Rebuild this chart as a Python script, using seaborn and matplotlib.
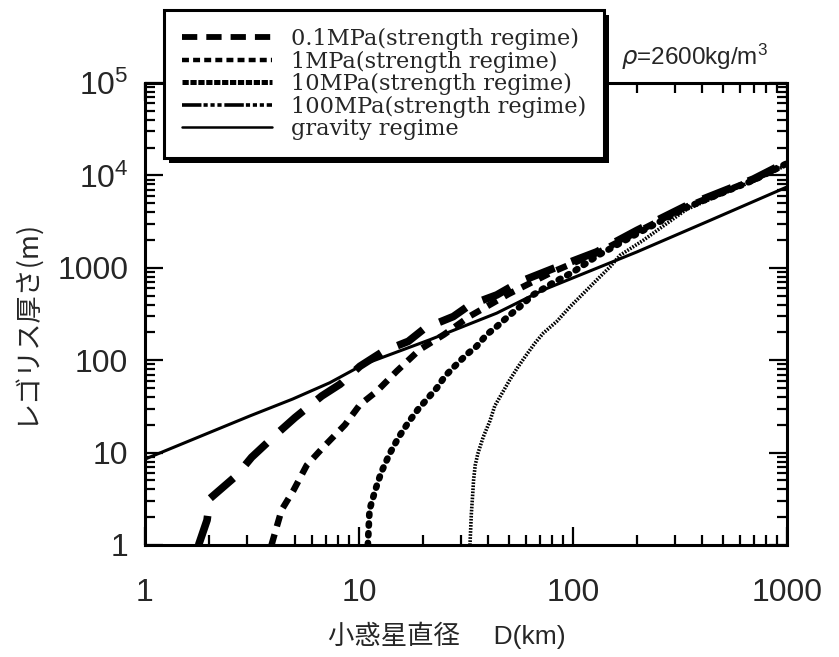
import matplotlib
matplotlib.use("Agg")
import matplotlib.pyplot as plt
import seaborn as sns
import pandas as pd
from matplotlib.lines import Line2D
from matplotlib.patches import Rectangle
from matplotlib.ticker import FixedLocator, FixedFormatter, LogLocator, NullFormatter

# ---------------- data ----------------
d_01 = [1.78, 1.95, 2.01, 2.68, 3.15, 4.12, 5.02, 6.7, 8.16, 10.1, 13, 17, 20.3, 27.6, 33, 44, 56.5, 81, 129, 199, 340, 696, 1000]
h_01 = [1.0, 1.86, 3.18, 5.66, 8.9, 15.9, 23.9, 41, 55, 86, 125, 160, 222, 297, 397, 508, 707, 984, 1486, 2543, 4720, 9120, 14000]

d_1 = [3.9, 4.35, 4.94, 5.7, 6.8, 8.6, 10.1, 12.1, 15, 19.2, 25, 33, 50, 80, 130, 200, 340, 700, 1000]
h_1 = [1.0, 2.4, 3.9, 7.3, 11.4, 20, 33, 46, 76, 130, 190, 300, 520, 900, 1450, 2450, 4600, 9000, 13500]

d_10 = [11.0, 11.2, 11.9, 12.7, 13.9, 15.3, 17, 18.9, 21.1, 23.1, 25.2, 28, 31.8, 35.4, 39.5, 44, 49.7, 56.5, 65, 80, 100, 130, 200, 340, 700, 1000]
h_10 = [1.0, 2.4, 3.9, 6.1, 9.7, 14.6, 21.2, 29.5, 39.4, 50, 67, 86, 115, 141, 189, 231, 297, 380, 508, 680, 900, 1350, 2350, 4500, 8900, 13500]

d_100 = [33, 33.5, 34, 34.3, 34.9, 35.9, 38, 40.9, 43.1, 46.3, 50.8, 55.6, 60.7, 66.4, 72.6, 84, 97, 112, 129, 149, 166, 213, 340, 700, 1000]
h_100 = [1.0, 2.19, 3.6, 5.0, 7.25, 9.7, 14.6, 22, 32, 42.7, 62, 86, 115, 153, 196, 263, 380, 530, 737, 1025, 1368, 1986, 4300, 8800, 13000]

d_grav = [1, 1.94, 3.1, 4.9, 7.3, 10.5, 21.5, 44, 72.6, 199, 437, 1000]
h_grav = [8.5, 16, 25, 38, 57, 90, 167, 323, 576, 1486, 3260, 7500]

labels = ["0.1MPa(strength regime)", "1MPa(strength regime)", "10MPa(strength regime)",
          "100MPa(strength regime)", "gravity regime"]
xticks = [1, 10, 100, 1000]
xticklabels = ["1", "10", "100", "1000"]
yticks = [1, 10, 100, 1000, 1e4, 1e5]
yticklabels = ["1", "10", "100", "1000", r"$10^4$", r"$10^5$"]

# ---------------- styling ----------------
sns.set_theme(style="white")
plt.rcParams["font.family"] = ["Liberation Sans", "Noto Sans CJK JP", "DejaVu Sans"]
plt.rcParams["mathtext.default"] = "regular"
plt.rcParams["lines.scale_dashes"] = False

fig = plt.figure(figsize=(8.39, 6.57), dpi=100)
ax = fig.add_axes([145 / 839, 1 - 545 / 657, (787 - 145) / 839, (545 - 83) / 657])

styles = [
    dict(linestyle=(0, (22, 13)), linewidth=5.5),
    dict(linestyle=(0, (8, 6)), linewidth=4.6),
    dict(linestyle=(0, (1.5, 5.5)), linewidth=4.8, dash_capstyle="round"),
    dict(linestyle=(0, (1.2, 1.0)), linewidth=2.6),
    dict(linestyle="-", linewidth=2.2),
]
series = [(d_01, h_01), (d_1, h_1), (d_10, h_10), (d_100, h_100), (d_grav, h_grav)]
for (dx, hy), st in zip(series, styles):
    df = pd.DataFrame({"D": dx, "h": hy})
    sns.lineplot(data=df, x="D", y="h", ax=ax, color="black", estimator=None,
                 sort=False, legend=False, **st)

ax.set_xscale("log")
ax.set_yscale("log")
ax.set_xlim(1, 1000)
ax.set_ylim(1, 1e5)
ax.xaxis.set_major_locator(FixedLocator(xticks))
ax.xaxis.set_major_formatter(FixedFormatter(xticklabels))
ax.yaxis.set_major_locator(FixedLocator(yticks))
ax.yaxis.set_major_formatter(FixedFormatter(yticklabels))
ax.xaxis.set_minor_locator(LogLocator(base=10, subs=range(2, 10)))
ax.yaxis.set_minor_locator(LogLocator(base=10, subs=range(2, 10)))
ax.xaxis.set_minor_formatter(NullFormatter())
ax.yaxis.set_minor_formatter(NullFormatter())
ax.tick_params(which="both", direction="in", top=True, right=True, bottom=True, left=True,
               color="black", width=1.6)
ax.tick_params(which="major", length=13, labelsize=23)
ax.tick_params(which="minor", length=7.5)
ax.tick_params(axis="x", which="major", pad=24)
ax.tick_params(axis="y", which="major", pad=12)
for sp in ax.spines.values():
    sp.set_visible(True)
    sp.set_color("black")
    sp.set_linewidth(2.2)
ax.set_xlabel("")
ax.set_ylabel("")

fig.text(447 / 839, 1 - 635 / 657, "小惑星直径　 D(km)", ha="center", va="center",
         fontsize=19, family=["Liberation Sans", "Noto Sans CJK JP", "DejaVu Sans"])
fig.text(25 / 839, 1 - 322 / 657, "レゴリス厚さ(m)", ha="center", va="center", rotation=90,
         fontsize=19.5, family=["Noto Sans CJK JP", "DejaVu Sans"])
fig.text(621 / 839, 1 - 57 / 657, r"$\it{\rho}$=2600kg/m$^3$", ha="left", va="center",
         fontsize=17.5, family=["Liberation Sans"])

handles = [Line2D([0], [0], color="black", linestyle=(0, (11, 6.5)), linewidth=4.2),
           Line2D([0], [0], color="black", linestyle=(0, (5, 3)), linewidth=3.2),
           Line2D([0], [0], color="black", linestyle=(0, (4.5, 1.2)), linewidth=3.6),
           Line2D([0], [0], color="black", linestyle=(0, (14, 1.5, 3, 2, 3, 2, 3, 2)), linewidth=2.6),
           Line2D([0], [0], color="black", linestyle="-", linewidth=1.8)]
leg = fig.legend(handles, labels, loc="upper left", bbox_to_anchor=(164 / 839, 1 - 10 / 657),
                 bbox_transform=fig.transFigure, borderaxespad=0, frameon=True, fancybox=False,
                 shadow=False, framealpha=1.0, handlelength=4.0, handletextpad=0.85,
                 labelspacing=0.02, borderpad=0.8,
                 prop={"family": "DejaVu Serif", "size": 16.2})
leg.get_frame().set_edgecolor("black")
leg.get_frame().set_linewidth(2.2)
leg.get_frame().set_facecolor("white")
leg.set_zorder(10)

fig.canvas.draw()
bb = leg.get_window_extent()
off = 5
shadow = Rectangle((bb.x0 + off, bb.y0 - off), bb.width, bb.height, transform=None,
                   facecolor="black", edgecolor="none", zorder=9)
fig.add_artist(shadow)

fig.savefig("out.png", dpi=100)
